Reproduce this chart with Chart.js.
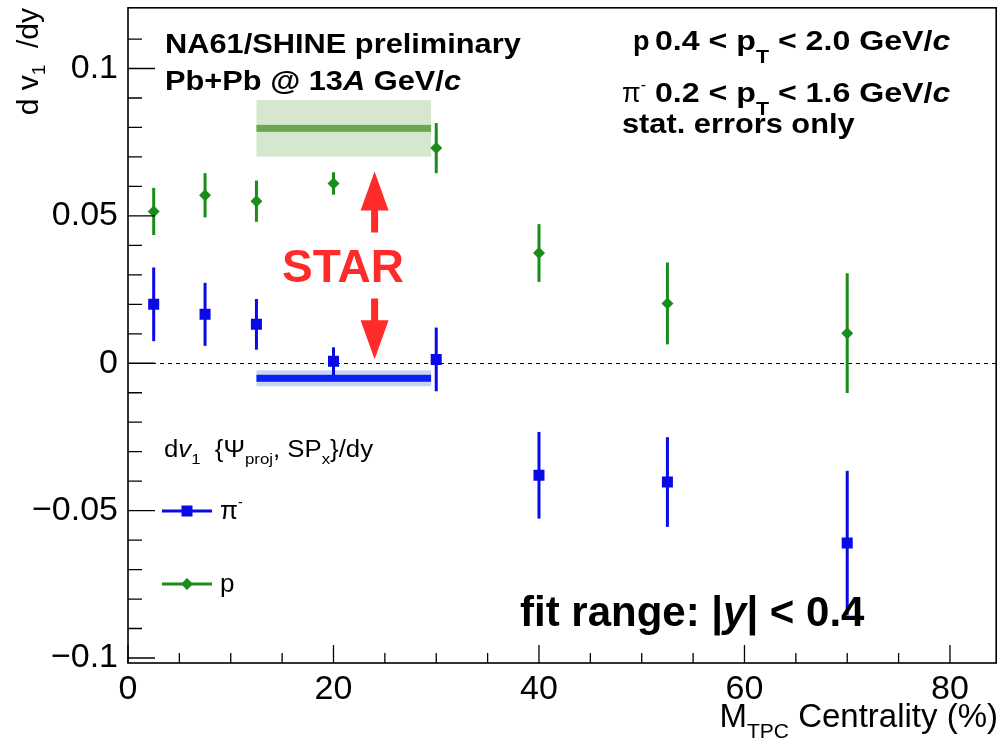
<!DOCTYPE html>
<html>
<head>
<meta charset="utf-8">
<title>dv1/dy vs centrality</title>
<script src="https://cdn.jsdelivr.net/npm/chart.js@4.4.1/dist/chart.umd.min.js"></script>
<style>
  html, body { margin: 0; padding: 0; background: #fff; }
</style>
</head>
<body>
<canvas id="v1Chart" width="1004" height="745"></canvas>
<script>
// centrality bins (%) and slopes dv1/dy with stat. errors
const centrality = [2.5, 7.5, 12.5, 20, 30, 40, 52.5, 70];
const protonV1   = [0.0515, 0.0570, 0.0550, 0.0610, 0.0730, 0.0374, 0.0203, 0.0102];
const protonErr  = [0.0080, 0.0075, 0.0070, 0.0038, 0.0085, 0.0098, 0.0139, 0.0203];
const pionV1     = [0.0200, 0.0166, 0.0132, 0.0007, 0.0013, -0.0380, -0.0403, -0.0610];
const pionErr    = [0.0125, 0.0107, 0.0086, 0.0047, 0.0108, 0.0147, 0.0152, 0.0245];

// STAR reference: centrality range, [value, half width of band]
const starRange  = [12.5, 29.5];
const starProton = [0.0797, 0.0096];
const starPion   = [-0.0051, 0.0027];

// arrows pointing from the STAR label to the two bands
const arrowX    = 24;
const arrowUp   = [0.0444, 0.0651];
const arrowDown = [0.0220, 0.0014];

const xTicks = [0, 20, 40, 60, 80];
const yTicks = [-0.1, -0.05, 0, 0.05, 0.1];
const yTickLabels = ['\u22120.1', '\u22120.05', '0', '0.05', '0.1'];

const X_MIN = 0, X_MAX = 84.5, Y_MIN = -0.1017, Y_MAX = 0.1206;

const PION = '#0a0ae6';
const PROTON = '#198c19';
const FONT = "'Liberation Sans', Arial, Helvetica, sans-serif";

function fnt(size, style) { return (style || '') + ' ' + size + 'px ' + FONT; }

// draws a run of text pieces (sub/superscripts via dy), optional horizontal stretch
function drawRich(ctx, x, y, parts, align, sx) {
  ctx.save();
  ctx.translate(x, y);
  ctx.scale(sx || 1, 1);
  let w = 0;
  parts.forEach(p => { ctx.font = p.font; w += ctx.measureText(p.t).width; });
  let cx = align === 'right' ? -w : align === 'center' ? -w / 2 : 0;
  ctx.textAlign = 'left';
  ctx.textBaseline = 'alphabetic';
  parts.forEach(p => {
    ctx.font = p.font;
    ctx.fillStyle = p.color || '#000';
    ctx.fillText(p.t, cx, p.dy || 0);
    cx += ctx.measureText(p.t).width;
  });
  ctx.restore();
  return w;
}

function drawArrow(ctx, x, yFrom, yTo) {
  const dir = Math.sign(yTo - yFrom);
  const headL = 39, headW = 14, shaft = 3.5;
  const yBase = yTo - dir * headL;
  ctx.beginPath();
  ctx.moveTo(x - shaft, yFrom);
  ctx.lineTo(x + shaft, yFrom);
  ctx.lineTo(x + shaft, yBase);
  ctx.lineTo(x + headW, yBase);
  ctx.lineTo(x, yTo);
  ctx.lineTo(x - headW, yBase);
  ctx.lineTo(x - shaft, yBase);
  ctx.closePath();
  ctx.fill();
}

function drawBand(ctx, xs, ys, range, band, fill, line) {
  const x0 = xs.getPixelForValue(range[0]), x1 = xs.getPixelForValue(range[1]);
  const yTop = ys.getPixelForValue(band[0] + band[1]);
  const yBot = ys.getPixelForValue(band[0] - band[1]);
  ctx.fillStyle = fill;
  ctx.fillRect(x0, yTop, x1 - x0, yBot - yTop);
  ctx.fillStyle = line;
  const yc = ys.getPixelForValue(band[0]);
  ctx.fillRect(x0, yc - 3.5, x1 - x0, 7);
}

const rootStyle = {
  id: 'rootStyle',
  beforeDatasetsDraw(chart) {
    const { ctx, chartArea: a, scales: { x, y } } = chart;
    ctx.save();
    drawBand(ctx, x, y, starRange, starProton, '#d5e8cf', '#6aa84f');
    drawBand(ctx, x, y, starRange, starPion, '#c5d5f5', '#0b1ff0');

    // zero line
    const y0 = Math.round(y.getPixelForValue(0)) + 0.5;
    ctx.strokeStyle = '#000';
    ctx.lineWidth = 1;
    ctx.setLineDash([4, 4]);
    ctx.beginPath();
    ctx.moveTo(a.left, y0);
    ctx.lineTo(a.right, y0);
    ctx.stroke();
    ctx.setLineDash([]);

    // vertical error bars
    ctx.lineWidth = 3;
    [[pionV1, pionErr, PION], [protonV1, protonErr, PROTON]].forEach(([vals, errs, col]) => {
      ctx.strokeStyle = col;
      centrality.forEach((c, i) => {
        const px = x.getPixelForValue(c);
        ctx.beginPath();
        ctx.moveTo(px, y.getPixelForValue(vals[i] + errs[i]));
        ctx.lineTo(px, y.getPixelForValue(vals[i] - errs[i]));
        ctx.stroke();
      });
    });
    ctx.restore();
  },
  afterDraw(chart) {
    const { ctx, chartArea: a, scales: { x, y } } = chart;
    ctx.save();

    // frame with inward ticks on the left and bottom
    ctx.strokeStyle = '#000';
    ctx.lineWidth = 1.6;
    ctx.strokeRect(a.left, a.top, a.right - a.left, a.bottom - a.top);
    ctx.lineWidth = 1.3;
    ctx.beginPath();
    for (let i = -10; i <= 12; i++) {
      const py = y.getPixelForValue(i / 100);
      if (py < a.top + 2 || py > a.bottom) continue;
      const len = i % 5 === 0 ? 27 : 14;
      ctx.moveTo(a.left, py);
      ctx.lineTo(a.left + len, py);
    }
    for (let v = 0; v <= X_MAX; v += 5) {
      const px = x.getPixelForValue(v);
      const len = v % 20 === 0 ? 18 : 10;
      ctx.moveTo(px, a.bottom);
      ctx.lineTo(px, a.bottom - len);
    }
    ctx.stroke();

    // STAR arrows and label
    ctx.fillStyle = '#ff2a2a';
    const ax = x.getPixelForValue(arrowX);
    drawArrow(ctx, ax, y.getPixelForValue(arrowUp[0]), y.getPixelForValue(arrowUp[1]));
    drawArrow(ctx, ax, y.getPixelForValue(arrowDown[0]), y.getPixelForValue(arrowDown[1]));
    drawRich(ctx, 343, 282, [{ t: 'STAR', font: fnt(46, 'bold'), color: '#ff2a2a' }], 'center');

    // header texts
    const b27 = fnt(27, 'bold'), bi27 = fnt(27, 'italic bold'), sub = fnt(18, 'bold');
    const SX = 1.14;
    drawRich(ctx, 165, 53, [{ t: 'NA61/SHINE preliminary', font: b27 }], 'left', SX);
    drawRich(ctx, 165, 90, [
      { t: 'Pb+Pb @ 13', font: b27 }, { t: 'A', font: bi27 },
      { t: ' GeV/', font: b27 }, { t: 'c', font: bi27 }
    ], 'left', SX);

    drawRich(ctx, 633, 50, [{ t: 'p', font: b27 }]);
    drawRich(ctx, 655, 50, [
      { t: '0.4 < p', font: b27 }, { t: 'T', font: sub, dy: 13 },
      { t: ' < 2.0 GeV/', font: b27 }, { t: 'c', font: bi27 }
    ], 'left', 1.19);
    drawRich(ctx, 622, 102, [
      { t: '\u03c0', font: fnt(27) }, { t: '-', font: fnt(16), dy: -12 }
    ]);
    drawRich(ctx, 655, 102, [
      { t: '0.2 < p', font: b27 }, { t: 'T', font: sub, dy: 13 },
      { t: ' < 1.6 GeV/', font: b27 }, { t: 'c', font: bi27 }
    ], 'left', 1.19);
    drawRich(ctx, 622, 133, [{ t: 'stat. errors only', font: b27 }], 'left', SX);

    drawRich(ctx, 520, 626, [
      { t: 'fit range: |', font: fnt(42, 'bold') }, { t: 'y', font: fnt(42, 'italic bold') },
      { t: '| < 0.4', font: fnt(42, 'bold') }
    ]);

    // legend
    const n23 = fnt(23), s15 = fnt(15);
    drawRich(ctx, 164, 457, [
      { t: 'd', font: n23 }, { t: 'v', font: fnt(23, 'italic') }, { t: '1', font: s15, dy: 7 },
      { t: '  {\u03a8', font: n23 }, { t: 'proj', font: s15, dy: 7 },
      { t: ', SP', font: n23 }, { t: 'x', font: s15, dy: 7 }, { t: '}/dy', font: n23 }
    ], 'left', 1.12);
    const legend = [
      { ds: chart.data.datasets[0], y: 511, parts: [{ t: '\u03c0', font: fnt(26) }, { t: '-', font: fnt(14), dy: -12 }] },
      { ds: chart.data.datasets[1], y: 584, parts: [{ t: 'p', font: fnt(26) }] }
    ];
    legend.forEach(e => {
      ctx.strokeStyle = e.ds.borderColor;
      ctx.fillStyle = e.ds.backgroundColor;
      ctx.lineWidth = 3;
      ctx.beginPath();
      ctx.moveTo(162, e.y);
      ctx.lineTo(212, e.y);
      ctx.stroke();
      Chart.helpers.drawPoint(ctx, { pointStyle: e.ds.pointStyle, radius: e.ds.pointRadius, borderWidth: 0 }, 187, e.y);
      drawRich(ctx, 220, e.y + 8, e.parts);
    });

    // axis titles
    drawRich(ctx, 998, 727, [
      { t: 'M', font: fnt(33) }, { t: 'TPC', font: fnt(21), dy: 11 }, { t: ' Centrality (%)', font: fnt(33) }
    ], 'right');
    ctx.translate(38, 8);
    ctx.rotate(-Math.PI / 2);
    drawRich(ctx, 0, 0, [
      { t: 'd v', font: fnt(30) }, { t: '1', font: fnt(19), dy: 7 }, { t: '  /dy', font: fnt(30) }
    ], 'right');
    ctx.restore();
  }
};

new Chart(document.getElementById('v1Chart'), {
  type: 'scatter',
  data: {
    datasets: [
      {
        label: '\u03c0-',
        data: centrality.map((c, i) => ({ x: c, y: pionV1[i] })),
        pointStyle: 'rect',
        pointRadius: 7.8,
        backgroundColor: PION,
        borderColor: PION,
        borderWidth: 0
      },
      {
        label: 'p',
        data: centrality.map((c, i) => ({ x: c, y: protonV1[i] })),
        pointStyle: 'rectRot',
        pointRadius: 6,
        backgroundColor: PROTON,
        borderColor: PROTON,
        borderWidth: 0
      }
    ]
  },
  options: {
    responsive: false,
    animation: false,
    events: [],
    layout: { padding: { top: 7, right: 6, left: 0, bottom: 0 } },
    plugins: { legend: { display: false }, tooltip: { enabled: false } },
    scales: {
      x: {
        type: 'linear',
        min: X_MIN,
        max: X_MAX,
        grid: { display: false, drawTicks: false },
        border: { display: false },
        ticks: { color: '#000', font: { size: 34, family: FONT }, padding: 6, maxRotation: 0, autoSkip: false },
        afterBuildTicks: s => { s.ticks = xTicks.map(v => ({ value: v })); },
        afterFit: s => { s.height = 82; s.paddingLeft = 0; s.paddingRight = 0; }
      },
      y: {
        type: 'linear',
        min: Y_MIN,
        max: Y_MAX,
        grid: { display: false, drawTicks: false },
        border: { display: false },
        ticks: {
          color: '#000',
          font: { size: 34, family: FONT },
          padding: 10,
          autoSkip: false,
          callback: (v, i) => yTickLabels[i]
        },
        afterBuildTicks: s => { s.ticks = yTicks.map(v => ({ value: v })); },
        afterFit: s => { s.width = 128; s.paddingTop = 0; s.paddingBottom = 0; }
      }
    }
  },
  plugins: [rootStyle]
});
</script>
</body>
</html>
